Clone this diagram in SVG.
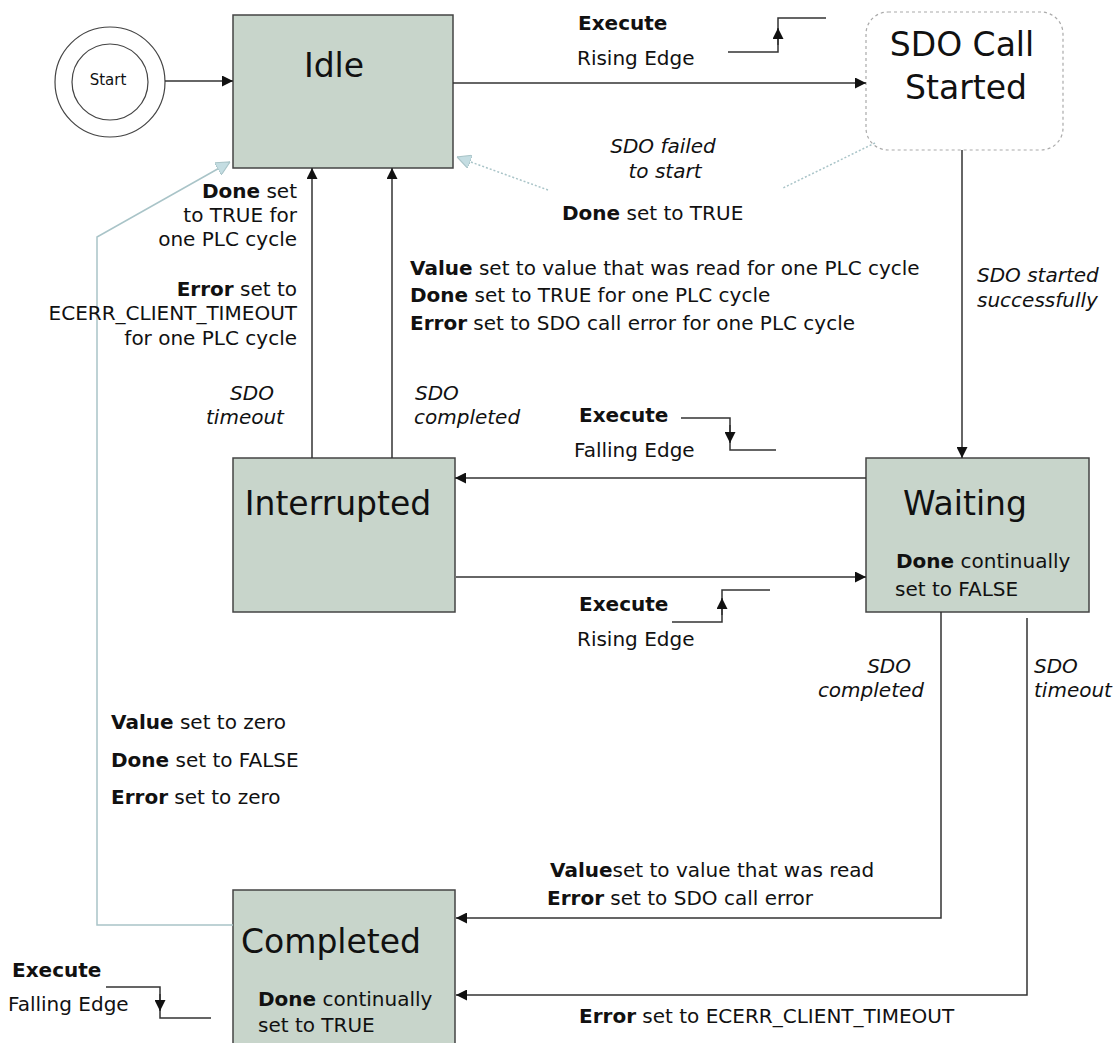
<svg xmlns="http://www.w3.org/2000/svg" width="1118" height="1043" viewBox="0 0 1118 1043">
<style>
text{font-family:"DejaVu Sans","Liberation Sans",sans-serif;fill:#111;}
.t{font-size:20px;}
.b{font-weight:bold;}
.i{font-style:italic;font-size:20px;}
.big{font-size:33px;}
.box{fill:#c8d5cb;stroke:#444;stroke-width:1.5;}
.ln{fill:none;stroke:#333;stroke-width:1.5;}
.lb{fill:none;stroke:#a9c4c8;stroke-width:1.5;}
.dot{fill:none;stroke:#a9c4c8;stroke-width:1.5;stroke-dasharray:2 2;}
</style>
<defs>
<marker id="ah" viewBox="0 0 10 10" refX="10" refY="5" markerWidth="11" markerHeight="11" markerUnits="userSpaceOnUse" orient="auto"><path d="M0,0 L10,5 L0,10 z" fill="#111"/></marker>
<marker id="ahb" viewBox="0 0 12 12" refX="12" refY="6" markerWidth="14" markerHeight="14" markerUnits="userSpaceOnUse" orient="auto"><path d="M0,0 L12,6 L0,12 z" fill="#c4dde2" stroke="#a9c4c8"/></marker>
</defs>

<g id="start">
<circle cx="110" cy="82" r="55" fill="#fff" stroke="#444" stroke-width="1.2"/>
<circle cx="110" cy="82" r="38" fill="#fff" stroke="#444" stroke-width="1.2"/>
<text x="108" y="85" font-size="15" text-anchor="middle">Start</text>
</g>

<g id="idle">
<rect class="box" x="233" y="15" width="220" height="153"/>
<text class="big" x="334" y="77" text-anchor="middle">Idle</text>
</g>

<g id="sdo-call-started">
<rect x="866" y="12" width="197" height="138" rx="22" fill="#fff" stroke="#aaa" stroke-width="1.2" stroke-dasharray="3 3"/>
<text class="big" x="962" y="56" text-anchor="middle">SDO Call</text>
<text class="big" x="966" y="99" text-anchor="middle">Started</text>
</g>

<g id="interrupted">
<rect class="box" x="233" y="458" width="222" height="154"/>
<text class="big" x="338" y="515" text-anchor="middle">Interrupted</text>
</g>

<g id="waiting">
<rect class="box" x="866" y="458" width="223" height="154"/>
<text class="big" x="965" y="515" text-anchor="middle">Waiting</text>
<text class="t" x="896" y="568"><tspan class="b">Done</tspan> continually</text>
<text class="t" x="895" y="596">set to FALSE</text>
</g>

<g id="completed">
<rect class="box" x="233" y="890" width="222" height="160"/>
<text class="big" x="331" y="953" text-anchor="middle">Completed</text>
<text class="t" x="258" y="1006"><tspan class="b">Done</tspan> continually</text>
<text class="t" x="258" y="1032">set to TRUE</text>
</g>

<g id="connectors">
<line class="ln" x1="165" y1="81" x2="233" y2="81" marker-end="url(#ah)"/>
<line class="ln" x1="453" y1="83" x2="866" y2="83" marker-end="url(#ah)"/>
<polyline class="dot" points="875,143 783,188"/>
<polyline class="dot" points="548,190 457,157" marker-end="url(#ahb)"/>
<line class="ln" x1="962" y1="150" x2="962" y2="458" marker-end="url(#ah)"/>
<line class="ln" x1="866" y1="478" x2="455" y2="478" marker-end="url(#ah)"/>
<line class="ln" x1="456" y1="577" x2="866" y2="577" marker-end="url(#ah)"/>
<line class="ln" x1="312" y1="458" x2="312" y2="168" marker-end="url(#ah)"/>
<line class="ln" x1="392" y1="458" x2="392" y2="168" marker-end="url(#ah)"/>
<polyline class="ln" points="941,612 941,918 456,918" marker-end="url(#ah)"/>
<polyline class="ln" points="1027,618 1027,995 456,995" marker-end="url(#ah)"/>
<polyline class="lb" points="233,925 97,925 97,237 230,162" marker-end="url(#ahb)"/>
<polyline class="ln" points="728,52 778,52 778,18 826,18"/>
<line class="ln" x1="778" y1="45" x2="778" y2="28" marker-end="url(#ah)"/>
<polyline class="ln" points="681,418 730,418 730,450 776,450"/>
<line class="ln" x1="730" y1="425" x2="730" y2="443" marker-end="url(#ah)"/>
<polyline class="ln" points="672,622 722,622 722,590 770,590"/>
<line class="ln" x1="722" y1="615" x2="722" y2="598" marker-end="url(#ah)"/>
<polyline class="ln" points="106,987 160,987 160,1018 211,1018"/>
<line class="ln" x1="160" y1="994" x2="160" y2="1011" marker-end="url(#ah)"/>
</g>

<g id="labels">
<text class="t b" x="578" y="30">Execute</text>
<text class="t" x="577" y="65">Rising Edge</text>
<text class="i" x="663" y="153" text-anchor="middle">SDO failed</text>
<text class="i" x="665" y="178" text-anchor="middle">to start</text>
<text class="t" x="562" y="220"><tspan class="b">Done</tspan> set to TRUE</text>
<text class="i" x="977" y="282">SDO started</text>
<text class="i" x="977" y="307">successfully</text>
<text class="t" x="297" y="198" text-anchor="end"><tspan class="b">Done</tspan> set</text>
<text class="t" x="297" y="222" text-anchor="end">to TRUE for</text>
<text class="t" x="297" y="246" text-anchor="end">one PLC cycle</text>
<text class="t" x="297" y="296" text-anchor="end"><tspan class="b">Error</tspan> set to</text>
<text class="t" x="297" y="320" text-anchor="end">ECERR_CLIENT_TIMEOUT</text>
<text class="t" x="297" y="345" text-anchor="end">for one PLC cycle</text>
<text class="t" x="410" y="275"><tspan class="b">Value</tspan> set to value that was read for one PLC cycle</text>
<text class="t" x="410" y="302"><tspan class="b">Done</tspan> set to TRUE for one PLC cycle</text>
<text class="t" x="410" y="330"><tspan class="b">Error</tspan> set to SDO call error for one PLC cycle</text>
<text class="i" x="252" y="400" text-anchor="middle">SDO</text>
<text class="i" x="245" y="424" text-anchor="middle">timeout</text>
<text class="i" x="415" y="400">SDO</text>
<text class="i" x="414" y="424">completed</text>
<text class="t b" x="579" y="422">Execute</text>
<text class="t" x="574" y="457">Falling Edge</text>
<text class="t b" x="579" y="611">Execute</text>
<text class="t" x="577" y="646">Rising Edge</text>
<text class="i" x="911" y="673" text-anchor="end">SDO</text>
<text class="i" x="924" y="697" text-anchor="end">completed</text>
<text class="i" x="1034" y="673">SDO</text>
<text class="i" x="1034" y="697">timeout</text>
<text class="t" x="111" y="729"><tspan class="b">Value</tspan> set to zero</text>
<text class="t" x="111" y="767"><tspan class="b">Done</tspan> set to FALSE</text>
<text class="t" x="111" y="804"><tspan class="b">Error</tspan> set to zero</text>
<text class="t" x="550" y="877"><tspan class="b">Value</tspan>set to value that was read</text>
<text class="t" x="547" y="905"><tspan class="b">Error</tspan> set to SDO call error</text>
<text class="t" x="579" y="1023"><tspan class="b">Error</tspan> set to ECERR_CLIENT_TIMEOUT</text>
<text class="t b" x="12" y="977">Execute</text>
<text class="t" x="8" y="1011">Falling Edge</text>
</g>
</svg>
